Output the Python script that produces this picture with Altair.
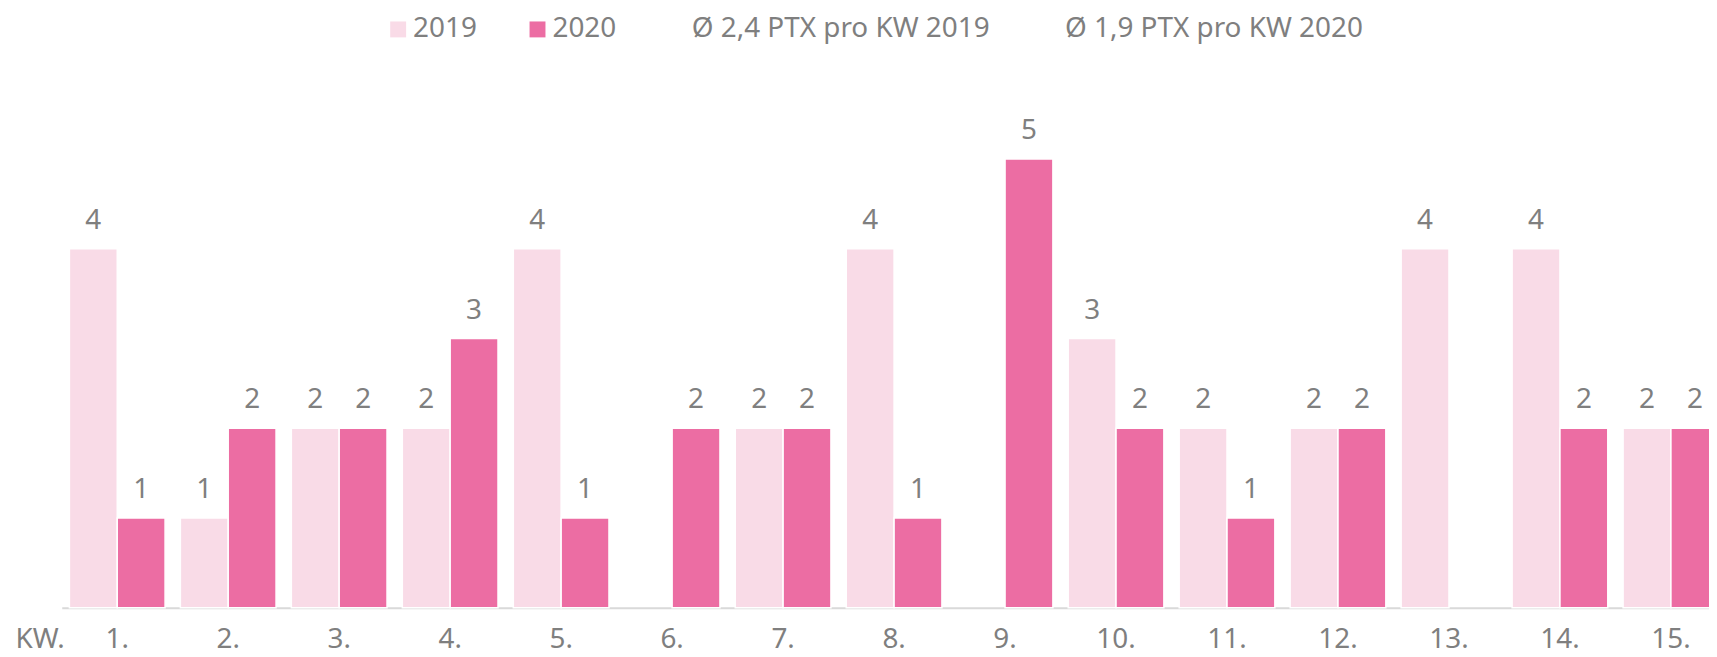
import altair as alt
import pandas as pd

# ---- data ----
kw = ["1.", "2.", "3.", "4.", "5.", "6.", "7.", "8.", "9.", "10.", "11.", "12.", "13.", "14.", "15."]
v2019 = [4, 1, 2, 2, 4, None, 2, 4, None, 3, 2, 2, 4, 4, 2]
v2020 = [1, 2, 2, 3, 1, 2, 2, 1, 5, 2, 1, 2, None, 2, 2]
series = ["2019", "2020"]
legend_labels = ["2019", "2020", "Ø 2,4 PTX pro KW 2019", "Ø 1,9 PTX pro KW 2020"]
legend_colors = ["#F9DBE7", "#EC6DA3", "#FFFFFF", "#FFFFFF"]

rows = []
for k, a, b in zip(kw, v2019, v2020):
    rows.append({"KW": k, "Jahr": "2019", "Wert": a})
    rows.append({"KW": k, "Jahr": "2020", "Wert": b})
df = pd.DataFrame(rows)

GRAY = "#7F7F7F"
FONT = "Noto Sans"

x_enc = alt.X(
    "KW:N",
    sort=kw,
    scale=alt.Scale(domain=kw, range=[0, 1672.5], paddingInner=0, paddingOuter=0),
    axis=alt.Axis(
        title="KW.",
        titleAngle=0,
        titleX=-47,
        titleY=40,
        titleAlign="left",
        titleBaseline="alphabetic",
        titleFont=FONT,
        titleFontSize=28,
        titleFontWeight="normal",
        titleColor=GRAY,
        labelAngle=0,
        labelFont=FONT,
        labelFontSize=28,
        labelColor=GRAY,
        labelPadding=18,
        labelBaseline="top",
        ticks=False,
        tickSize=0,
        domainColor="#D9D9D9",
        domainWidth=2,
        grid=False,
    ),
)
xoff = alt.XOffset(
    "Jahr:N",
    scale=alt.Scale(domain=series, paddingInner=0, paddingOuter=0.16),
)
y_enc = alt.Y("Wert:Q", scale=alt.Scale(domain=[0, 6], nice=False), axis=None)

base = alt.Chart(df).transform_filter("datum.Wert != null")

bars = base.mark_bar(stroke="white", strokeWidth=1.5).encode(
    x=x_enc,
    xOffset=xoff,
    y=y_enc,
    color=alt.Color(
        "Jahr:N",
        scale=alt.Scale(domain=legend_labels, range=legend_colors),
        legend=alt.Legend(
            title=None,
            orient="none",
            legendX=324,
            legendY=-54,
            direction="horizontal",
            symbolType="square",
            symbolSize=256,
            symbolStrokeWidth=0,
            labelFont=FONT,
            labelFontSize=28,
            labelColor=GRAY,
            labelOffset=1,
            labelLimit=600,
            columnPadding=46,
            padding=0,
        ),
    ),
)

labels = base.mark_text(
    font=FONT, fontSize=28, color=GRAY, baseline="alphabetic", dy=-20
).encode(
    x=x_enc,
    xOffset=xoff,
    y=y_enc,
    text=alt.Text("Wert:Q", format="d"),
)

chart = (
    alt.layer(bars, labels)
    .properties(
        width=1655,
        height=541,
        padding={"left": 54, "right": 0, "top": 60, "bottom": 48},
        autosize=alt.AutoSizeParams(type="none"),
        background="white",
    )
    .configure_view(stroke=None)
)

chart.save("out.html", embed_options={"renderer": "svg", "actions": False})
